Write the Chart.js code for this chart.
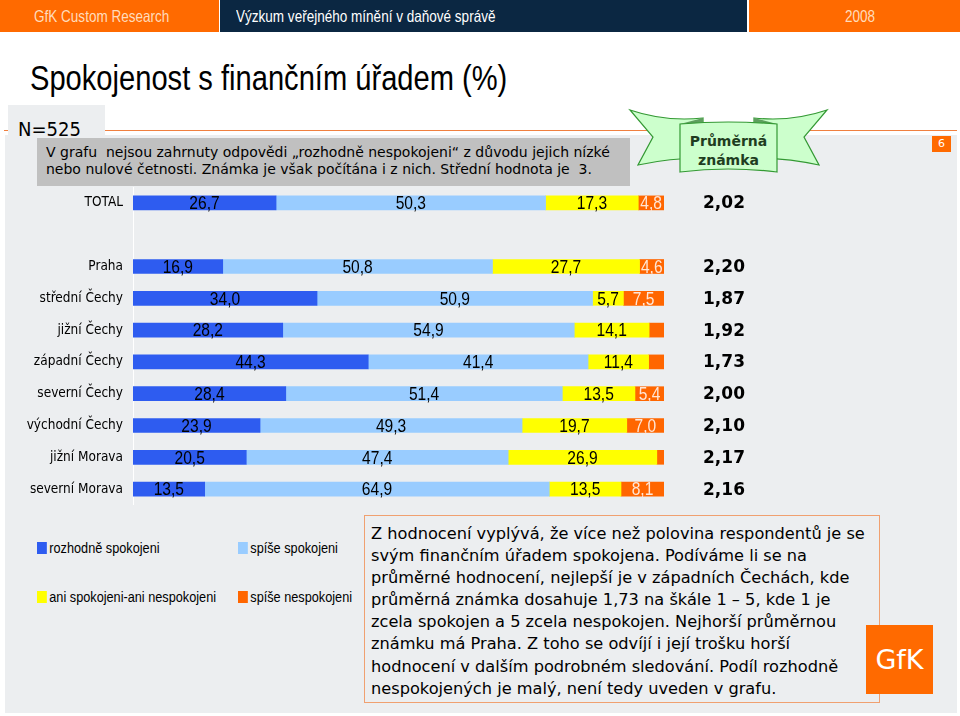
<!DOCTYPE html>
<html>
<head>
<meta charset="utf-8">
<script src="https://cdn.jsdelivr.net/npm/chart.js@4.4.1/dist/chart.umd.min.js"></script>
<style>
  body { margin: 0; width: 960px; height: 716px; background: #fff; position: relative; overflow: hidden; font-family: 'Liberation Sans', sans-serif; }
  .abs { position: absolute; }
  .narrow { display: inline-block; transform: scaleX(0.82); transform-origin: left center; white-space: nowrap; }
  .hdr { top: 0; height: 32px; line-height: 32px; font-size: 16.5px; }
  #panel { left: 5px; top: 135px; width: 952px; height: 578px; background: #eceef0; }
  #nbox { left: 8px; top: 105px; width: 97px; height: 31px; background: #eceef0; font-family: 'DejaVu Sans Condensed', sans-serif; font-size: 20px; line-height: 24px; padding: 12px 0 0 10px; box-sizing: border-box; }
  #note { left: 37px; top: 138px; width: 593px; height: 48px; background: #c0c0c0; font-family: 'DejaVu Sans', sans-serif; font-size: 14px; line-height: 17px; padding: 6px 0 0 9px; box-sizing: border-box; white-space: pre; }
  #chartWrap { left: 0; top: 187px; width: 760px; height: 318px; }
  .legend-item { position: absolute; font-size: 15.5px; line-height: 18px; }
  .legend-item .dot { display: inline-block; width: 12px; height: 12px; margin-right: 3px; vertical-align: -1px; }
  #comment { left: 364px; top: 515px; width: 516px; height: 188px; border: 1px solid #f0a070; box-sizing: border-box; font-family: 'DejaVu Sans', sans-serif; font-size: 16.2px; line-height: 22.1px; padding: 7px 0 0 6px; white-space: pre; }
</style>
</head>
<body>
<div class="abs hdr" style="left:0;width:219px;background:#ff6a00;color:#ffdcbc;padding-left:34px;box-sizing:border-box;"><span class="narrow">GfK Custom Research</span></div>
<div class="abs hdr" style="left:220px;width:527px;background:#0b2742;color:#fff;padding-left:16px;box-sizing:border-box;"><span class="narrow">Výzkum veřejného mínění v daňové správě</span></div>
<div class="abs hdr" style="left:749px;width:211px;background:#ff6a00;color:#ffdcbc;padding-left:96px;box-sizing:border-box;"><span class="narrow">2008</span></div>
<div class="abs" style="left:30px;top:56px;font-size:35.5px;line-height:44px;color:#000;"><span class="narrow">Spokojenost s finančním úřadem (%)</span></div>
<div class="abs" id="panel"></div>
<div class="abs" id="nbox">N=525</div>
<div class="abs" style="left:4px;top:130px;width:4px;height:1px;background:#f08040;"></div>
<div class="abs" style="left:105px;top:130px;width:852px;height:1px;background:#f08040;"></div>
<div class="abs" id="note">V grafu  nejsou zahrnuty odpovědi „rozhodně nespokojeni“ z důvodu jejich nízké
nebo nulové četnosti. Známka je však počítána i z nich. Střední hodnota je  3.</div>
<div class="abs" style="left:932px;top:136px;width:19px;height:16px;background:#ff6a00;color:#fff;font-family:'DejaVu Sans',sans-serif;font-size:11px;line-height:16px;text-align:center;">6</div>
<svg class="abs" style="left:0;top:0;" width="960" height="716">
  <path d="M630,110 Q665,122 703,118 L703,158 Q670,158 638,165 L653,137 Z" fill="#ccffcc" stroke="#339933" stroke-width="1.2"/>
  <path d="M827,110 Q792,122 754,118 L754,158 Q787,158 819,165 L804,137 Z" fill="#ccffcc" stroke="#339933" stroke-width="1.2"/>
  <path d="M680,124 L703,118 L703,125 Z" fill="#5e9e5e"/>
  <path d="M777,124 L754,118 L754,125 Z" fill="#5e9e5e"/>
  <path d="M680,124 Q728,120 777,124 L777,172 Q728,166 680,172 Z" fill="#ccffcc" stroke="#339933" stroke-width="1.2"/>
  <text x="728.5" y="146" text-anchor="middle" font-family="DejaVu Sans" font-weight="bold" font-size="14" fill="#1f3d1f">Průměrná</text>
  <text x="728.5" y="165" text-anchor="middle" font-family="DejaVu Sans" font-weight="bold" font-size="14" fill="#1f3d1f">známka</text>
</svg>
<div class="abs" id="chartWrap"><canvas id="satChart"></canvas></div>
<div id="legend"></div>
<div class="abs" id="comment">Z hodnocení vyplývá, že více než polovina respondentů je se
svým finančním úřadem spokojena. Podíváme li se na
průměrné hodnocení, nejlepší je v západních Čechách, kde
průměrná známka dosahuje 1,73 na škále 1 – 5, kde 1 je
zcela spokojen a 5 zcela nespokojen. Nejhorší průměrnou
známku má Praha. Z toho se odvíjí i její trošku horší
hodnocení v dalším podrobném sledování. Podíl rozhodně
nespokojených je malý, není tedy uveden v grafu.</div>
<div class="abs" style="left:866px;top:625px;width:67px;height:69px;background:#ff6a00;color:#fff;font-family:'DejaVu Sans',sans-serif;font-size:27px;line-height:69px;text-align:center;">GfK</div>

<script>
// categories (blank row separates TOTAL from the regions)
const categories = ['TOTAL', '', 'Praha', 'střední Čechy', 'jižní Čechy', 'západní Čechy',
  'severní Čechy', 'východní Čechy', 'jižní Morava', 'severní Morava'];

// percentages per answer
const veryHappy = [26.7, null, 16.9, 34.0, 28.2, 44.3, 28.4, 23.9, 20.5, 13.5];
const ratherHappy = [50.3, null, 50.8, 50.9, 54.9, 41.4, 51.4, 49.3, 47.4, 64.9];
const neutral = [17.3, null, 27.7, 5.7, 14.1, 11.4, 13.5, 19.7, 26.9, 13.5];
const ratherUnhappy = [4.8, null, 4.6, 7.5, 2.8, 2.9, 5.4, 7.0, 1.3, 8.1];

// average mark (1 - 5)
const avgMark = [2.02, null, 2.20, 1.87, 1.92, 1.73, 2.00, 2.10, 2.17, 2.16];

const seriesNames = ['rozhodně spokojeni', 'spíše spokojeni', 'ani spokojeni-ani nespokojeni', 'spíše nespokojeni'];
const seriesColors = ['#2e5cf0', '#99ccff', '#ffff00', '#ff6600'];
const labelColors = ['#000', '#000', '#000', '#ffe6d6'];

const allSeries = [veryHappy, ratherHappy, neutral, ratherUnhappy];
const fmt = (v) => v.toFixed(1).replace('.', ',');

// 100% stacked like the original Excel chart: every row is scaled to its own sum
const rowTotals = categories.map((c, j) => allSeries.reduce((s, arr) => s + (arr[j] || 0), 0));

const barLabels = {
  id: 'barLabels',
  afterDatasetsDraw(chart) {
    const { ctx } = chart;
    ctx.save();
    ctx.textAlign = 'center';
    ctx.textBaseline = 'middle';
    ctx.font = "19px 'Liberation Sans', sans-serif";
    chart.data.datasets.forEach((ds, i) => {
      const meta = chart.getDatasetMeta(i);
      meta.data.forEach((bar, j) => {
        const raw = ds.rawValues[j];
        if (raw == null || raw < 3) return;
        ctx.fillStyle = labelColors[i];
        ctx.save();
        ctx.translate((bar.x + bar.base) / 2, bar.y + 1);
        ctx.scale(0.82, 1);
        ctx.fillText(fmt(raw), 0, 0);
        ctx.restore();
      });
    });

    // average mark column
    ctx.font = "bold 17px 'DejaVu Sans', sans-serif";
    ctx.fillStyle = '#000';
    const y = chart.scales.y;
    avgMark.forEach((v, j) => {
      if (v == null) return;
      ctx.fillText(v.toFixed(2).replace('.', ','), chart.chartArea.right + 60, y.getPixelForValue(j) + 1);
    });
    ctx.restore();
  }
};

function renderChart() {
  const ctx = document.getElementById('satChart');
  new Chart(ctx, {
    type: 'bar',
    data: {
      labels: categories,
      datasets: allSeries.map((arr, i) => ({
        label: seriesNames[i],
        data: arr.map((v, j) => v == null ? null : v / rowTotals[j] * 100),
        rawValues: arr,
        backgroundColor: seriesColors[i],
        borderWidth: 0,
        barThickness: 14
      }))
    },
    options: {
      indexAxis: 'y',
      responsive: true,
      maintainAspectRatio: false,
      animation: false,
      layout: { padding: { right: 96, top: 0, bottom: 0, left: 0 } },
      plugins: {
        legend: { display: false },
        tooltip: { enabled: false }
      },
      scales: {
        x: {
          stacked: true,
          min: 0,
          max: 100,
          display: false
        },
        y: {
          stacked: true,
          grid: { display: false, drawTicks: false },
          border: { display: true, color: '#ffffff', width: 1 },
          afterFit: (scale) => {
            scale.width = 133;
            // labels sit inside the rows, no extra room needed above/below
            scale.paddingTop = 0;
            scale.paddingBottom = 0;
          },
          ticks: {
            color: '#000',
            padding: 10,
            font: { family: "'DejaVu Sans Condensed', sans-serif", size: 13.5 }
          }
        }
      }
    },
    plugins: [barLabels]
  });
}

function renderLegend() {
  const container = document.getElementById('legend');
  const spots = [[37, 539], [238, 539], [37, 588], [238, 588]];
  seriesNames.forEach((name, i) => {
    const item = document.createElement('div');
    item.className = 'legend-item narrow';
    item.style.left = spots[i][0] + 'px';
    item.style.top = spots[i][1] + 'px';
    const dot = document.createElement('span');
    dot.className = 'dot';
    dot.style.background = seriesColors[i];
    const text = document.createElement('span');
    text.textContent = name;
    item.appendChild(dot);
    item.appendChild(text);
    container.appendChild(item);
  });
}

renderChart();
renderLegend();
</script>
</body>
</html>
